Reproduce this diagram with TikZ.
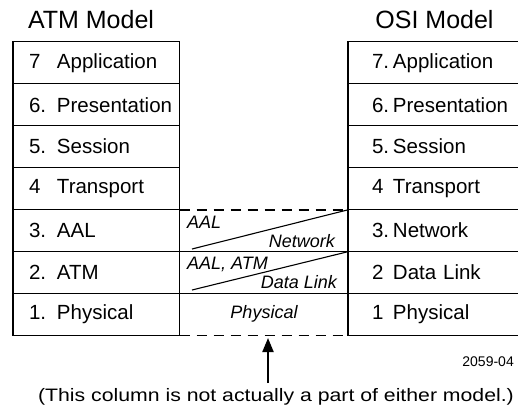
\documentclass[tikz,border=0pt]{standalone}
\usepackage{fontspec}
\setmainfont{Liberation Sans}
\usepackage{graphicx}
\usetikzlibrary{arrows.meta}
\begin{document}
\begin{tikzpicture}[x=1pt,y=-1pt,
  lrow/.style={draw, line width=1pt, minimum width=166pt, minimum height=41.86pt, text width=166pt, inner sep=0pt, align=left, font=\fontsize{20.5}{24}\selectfont},
  rrow/.style={lrow, minimum width=174pt, text width=174pt},
  title/.style={font=\fontsize{25}{30}\selectfont, inner sep=0pt},
  midtxt/.style={font=\fontsize{18}{22}\selectfont\itshape, inner sep=0pt},
  frame/.style={line width=1.8pt},
  sep/.style={line width=1.1pt},
  dsep/.style={line width=1.4pt, dash pattern=on 10pt off 7pt},
  diag/.style={line width=1.1pt}
]
\useasboundingbox (0,0) rectangle (518,412);

\node[title] (lt) at (91,20) {ATM Model};
\node[title] (rt) at (434.5,20) {OSI Model};

% left stack
\node[lrow] (L7) at (96,62.93)  {\hspace*{16pt}\makebox[28pt][l]{7}Application};
\node[lrow] (L6) at (96,104.79) {\hspace*{16pt}\makebox[28pt][l]{6.}Presentation};
\node[lrow] (L5) at (96,146.65) {\hspace*{16pt}\makebox[28pt][l]{5.}Session};
\node[lrow] (L4) at (96,188.51) {\hspace*{16pt}\makebox[28pt][l]{4}Transport};
\node[lrow] (L3) at (96,230.37) {\hspace*{16pt}\makebox[28pt][l]{3.}AAL};
\node[lrow] (L2) at (96,272.23) {\hspace*{16pt}\makebox[28pt][l]{2.}ATM};
\node[lrow] (L1) at (96,314.09) {\hspace*{16pt}\makebox[28pt][l]{1.}Physical};

% right stack
\node[rrow] (R7) at (435,62.93)  {\hspace*{24pt}\makebox[21pt][l]{7.}Application};
\node[rrow] (R6) at (435,104.79) {\hspace*{24pt}\makebox[21pt][l]{6.}Presentation};
\node[rrow] (R5) at (435,146.65) {\hspace*{24pt}\makebox[21pt][l]{5.}Session};
\node[rrow] (R4) at (435,188.51) {\hspace*{24pt}\makebox[21pt][l]{4}Transport};
\node[rrow] (R3) at (435,230.37) {\hspace*{24pt}\makebox[21pt][l]{3.}Network};
\node[rrow] (R2) at (435,272.23) {\hspace*{24pt}\makebox[21pt][l]{2}Data Link};
\node[rrow] (R1) at (435,314.09) {\hspace*{24pt}\makebox[21pt][l]{1}Physical};

\draw[frame] (L7.north west) rectangle (L1.south east);
\draw[frame] (R7.north west) rectangle (R1.south east);

% middle column
\draw[dsep] (L4.south east) -- (R4.south west);
\draw[dsep] (L1.south east) -- (R1.south west);
\draw[sep] (L3.south east) -- (R3.south west);
\draw[sep] (L2.south east) -- (R2.south west);
\coordinate (d1) at (192,249);
\coordinate (d2) at (192,290);
\draw[diag] (d1) -- (R4.south west);
\draw[diag] (d2) -- (R3.south west);

\node[midtxt, anchor=base west] (aal) at (187,228) {AAL};
\node[midtxt, anchor=base east] (net) at (335,247) {Network};
\node[midtxt, anchor=base west] (aalatm) at (187,269) {AAL, ATM};
\node[midtxt, anchor=base east] (dl) at (337,288) {Data Link};
\node[midtxt, anchor=base] (phy) at (264,318) {Physical};

\node[font=\fontsize{14}{16}\selectfont, anchor=east, inner sep=0pt] (code) at (514,362) {2059-04};

\coordinate (atail) at (268,383);
\coordinate (atip) at (268,338);
\draw[line width=2pt, -{Triangle[length=14pt,width=11pt]}] (atail) -- (atip);

\node[font=\fontsize{18}{22}\selectfont, inner sep=0pt] (note) at (276,397) {\scalebox{1.18}[1]{(This column is not actually a part of either model.)}};
\end{tikzpicture}
\end{document}
